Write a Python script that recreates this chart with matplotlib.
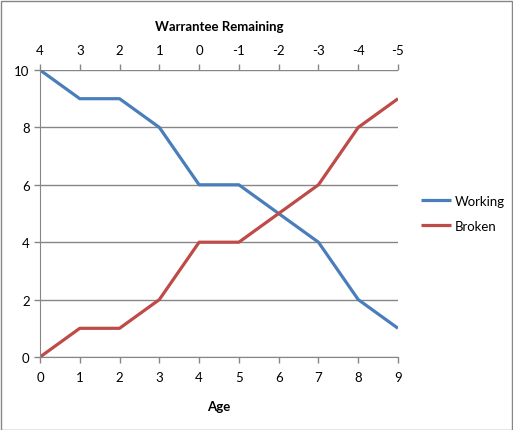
import matplotlib.pyplot as plt
from matplotlib.patches import Rectangle

age = [0, 1, 2, 3, 4, 5, 6, 7, 8, 9]
warrantee_left = ["4", "3", "2", "1", "0", "-1", "-2", "-3", "-4", "-5"]
working = [10, 9, 9, 8, 6, 6, 5, 4, 2, 1]
broken = [0, 1, 1, 2, 4, 4, 5, 6, 8, 9]

plt.rcParams['font.family'] = ['Lato', 'DejaVu Sans']
grey = '#868686'

fig = plt.figure(figsize=(5.13, 4.31), dpi=100)
ax = fig.add_axes([40 / 513, 73 / 431, 358 / 513, 287 / 431])

ax.plot(age, working, color='#4A7EBB', lw=2.3, label='Working', solid_capstyle='butt')
ax.plot(age, broken, color='#BE4B48', lw=2.3, label='Broken', solid_capstyle='butt')

ax.set_xlim(0, 9)
ax.set_ylim(0, 10)
ax.set_yticks([0, 2, 4, 6, 8, 10])
ax.set_xticks(age)
ax.yaxis.grid(True, color=grey, lw=1)
ax.set_axisbelow(True)

for s in ['right', 'top']:
    ax.spines[s].set_visible(False)
for s in ['left', 'bottom']:
    ax.spines[s].set_color(grey)
ax.tick_params(axis='both', colors=grey, labelcolor='black', labelsize=9.5, length=4, width=1)
ax.tick_params(axis='x', pad=6)
ax.set_xlabel('Age', fontweight='bold', fontsize=9.5, labelpad=12)

top = ax.secondary_xaxis('top')
top.set_xticks(age)
top.set_xticklabels(warrantee_left)
top.spines['top'].set_visible(False)
top.tick_params(colors=grey, labelcolor='black', labelsize=9.5, length=4, width=1, pad=6)
top.set_xlabel('Warrantee Remaining', fontweight='bold', fontsize=9.5, labelpad=10)

ax.legend(loc='center left', bbox_to_anchor=(1.03, 0.5), frameon=False,
          fontsize=9.5, handlelength=2.3, handletextpad=0.3, labelspacing=1.0)

fig.patches.append(Rectangle((0.5 / 513, 0.5 / 431), 511 / 513, 429 / 431, fill=False,
                             edgecolor=grey, lw=1, transform=fig.transFigure))

fig.savefig('out.png', dpi=100)
